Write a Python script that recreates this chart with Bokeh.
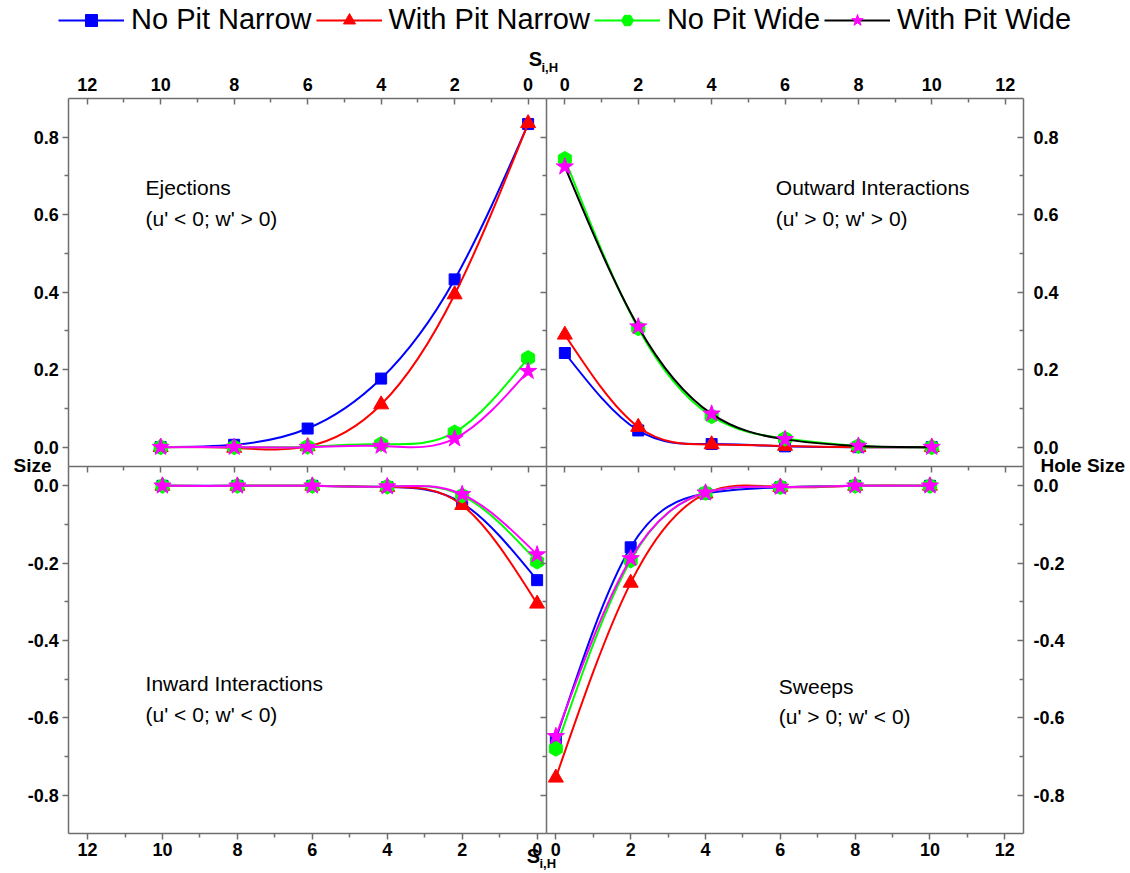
import numpy as np
from bokeh.plotting import figure
from bokeh.models import (Range1d, LinearAxis, FixedTicker, Label, Legend,
                          LegendItem, Grid, PrintfTickFormatter)
from bokeh.embed import file_html
from bokeh.resources import INLINE

# ---------------- data ----------------
series_names = ["No Pit Narrow", "With Pit Narrow", "No Pit Wide", "With Pit Wide"]
series_colors = ["#0000ff", "#ff0000", "#00ff00", "#ff00ff"]
series_markers = ["square", "triangle", "hex", "star"]

s_left = [10, 8, 6, 4, 2, 0]    # S_i,H (left panels, reversed axis)
s_right = [0, 2, 4, 6, 8, 10]   # S_i,H (right panels)

# Ejections (u' < 0; w' > 0)  -- top left
ej_npn = [0.0, 0.006, 0.048, 0.177, 0.433, 0.834]
ej_wpn = [0.0, -0.002, 0.002, 0.110, 0.394, 0.836]
ej_npw = [0.0, 0.0, 0.001, 0.008, 0.038, 0.230]
ej_wpw = [0.0, 0.0, 0.0, 0.003, 0.022, 0.196]

# Outward Interactions (u' > 0; w' > 0) -- top right
ou_npn = [0.243, 0.043, 0.008, 0.002, 0.0, 0.0]
ou_wpn = [0.290, 0.052, 0.007, 0.003, 0.0, 0.0]
ou_npw = [0.744, 0.307, 0.080, 0.022, 0.003, 0.0]
ou_wpw = [0.724, 0.311, 0.086, 0.020, 0.003, 0.0]

# Inward Interactions (u' < 0; w' < 0) -- bottom left
in_npn = [0.0, 0.0, 0.0, -0.003, -0.045, -0.244]
in_wpn = [0.0, 0.0, 0.0, -0.003, -0.050, -0.305]
in_npw = [0.0, 0.0, 0.0, -0.002, -0.025, -0.196]
in_wpw = [0.0, 0.0, 0.0, -0.002, -0.022, -0.178]

# Sweeps (u' > 0; w' < 0) -- bottom right
sw_npn = [-0.655, -0.159, -0.020, -0.004, 0.0, 0.0]
sw_wpn = [-0.755, -0.251, -0.020, -0.003, 0.0, 0.0]
sw_npw = [-0.680, -0.193, -0.018, -0.003, 0.0, 0.0]
sw_wpw = [-0.648, -0.188, -0.018, -0.003, 0.0, 0.0]

x_tick_vals = [0, 2, 4, 6, 8, 10, 12]
x_minor_vals = [1, 3, 5, 7, 9, 11]
top_y_ticks = [0.0, 0.2, 0.4, 0.6, 0.8]
top_y_minor = [0.1, 0.3, 0.5, 0.7]
bot_y_ticks = [-0.8, -0.6, -0.4, -0.2, 0.0]
bot_y_minor = [-0.7, -0.5, -0.3, -0.1]

# panel limits (data units)
TOP_Y = (-0.05, 0.9)
BOT_Y = (-0.9, 0.05)
TOP_X = (-0.5, 12.5)
BOT_X = (-0.25, 12.5)

# ---------------- layout geometry (canvas pixels) ----------------
W, H = 1128, 871
FL, FR, FT, FB = 68.3, 1023.0, 98.0, 833.3   # outer frame of the 4 panels
DX, DY = 546.0, 466.0                        # dividers


def lin_range(p_a, v_a, p_b, v_b, lo_px, hi_px):
    k = (v_b - v_a) / (p_b - p_a)
    return Range1d(start=v_a + (lo_px - p_a) * k, end=v_a + (hi_px - p_a) * k)


r_tl = lin_range(FL, TOP_X[1], DX, TOP_X[0], 0, W)
r_tr = lin_range(DX, TOP_X[0], FR, TOP_X[1], 0, W)
r_bl = lin_range(FL, BOT_X[1], DX, BOT_X[0], 0, W)
r_br = lin_range(DX, BOT_X[0], FR, BOT_X[1], 0, W)
r_top = lin_range(DY, TOP_Y[0], FT, TOP_Y[1], H, 0)
r_bot = lin_range(FB, BOT_Y[0], DY, BOT_Y[1], H, 0)


def xpx(rng, px):
    return rng.start + px / W * (rng.end - rng.start)


def ypx(rng, py):
    return rng.start + (H - py) / H * (rng.end - rng.start)


GRAY = "#6e6e6e"
FONT = "Liberation Sans"

p = figure(width=W, height=H, x_range=r_tl, y_range=r_top,
           output_backend="svg", toolbar_location=None,
           x_axis_location=None, y_axis_location=None, min_border=0)
p.extra_x_ranges = {"tr": r_tr, "bl": r_bl, "br": r_br}
p.extra_y_ranges = {"bot": r_bot}
p.center = [c for c in p.center if not isinstance(c, Grid)]
p.outline_line_color = None
p.background_fill_color = "white"
p.border_fill_color = "white"


def add_axis(side, xname, yname, fixed, bounds, major, minor, tick_in, tick_out,
             labels=True, standoff=5, yfmt=False):
    ax = LinearAxis(x_range_name=xname, y_range_name=yname, fixed_location=fixed,
                    bounds=bounds, ticker=FixedTicker(ticks=major, minor_ticks=minor))
    ax.axis_line_color = GRAY
    ax.axis_line_width = 1.5
    ax.major_tick_line_color = GRAY
    ax.minor_tick_line_color = GRAY
    ax.major_tick_line_width = 1.5
    ax.minor_tick_line_width = 1.5
    ax.major_tick_in = 6 if tick_in else 0
    ax.major_tick_out = 6 if tick_out else 0
    ax.minor_tick_in = 4 if tick_in else 0
    ax.minor_tick_out = 4 if tick_out else 0
    ax.major_label_text_font = FONT
    ax.major_label_text_font_style = "bold"
    ax.major_label_text_font_size = "18px"
    ax.major_label_text_color = "black"
    ax.major_label_standoff = standoff
    if yfmt:
        ax.formatter = PrintfTickFormatter(format="%.1f")
    if not labels:
        ax.major_label_overrides = {float(t): "" for t in major}
    p.add_layout(ax, side)


# top-left panel
add_axis("above", "default", "default", TOP_Y[1], TOP_X, x_tick_vals, x_minor_vals, True, False, standoff=8)
add_axis("below", "default", "default", TOP_Y[0], TOP_X, x_tick_vals, x_minor_vals, False, True, labels=False)
add_axis("left", "default", "default", TOP_X[1], TOP_Y, top_y_ticks, top_y_minor, False, True, standoff=4, yfmt=True)
add_axis("right", "default", "default", TOP_X[0], TOP_Y, top_y_ticks, top_y_minor, True, False, labels=False)
# top-right panel
add_axis("above", "tr", "default", TOP_Y[1], TOP_X, x_tick_vals, x_minor_vals, True, False, standoff=8)
add_axis("below", "tr", "default", TOP_Y[0], TOP_X, x_tick_vals, x_minor_vals, False, True, labels=False)
add_axis("right", "tr", "default", TOP_X[1], TOP_Y, top_y_ticks, top_y_minor, True, False, standoff=10, yfmt=True)
# bottom-left panel
add_axis("below", "bl", "bot", BOT_Y[0], BOT_X, x_tick_vals, x_minor_vals, False, True, standoff=3)
add_axis("left", "bl", "bot", BOT_X[1], BOT_Y, bot_y_ticks, bot_y_minor, False, True, standoff=4, yfmt=True)
add_axis("right", "bl", "bot", BOT_X[0], BOT_Y, bot_y_ticks, bot_y_minor, True, False, labels=False)
# bottom-right panel
add_axis("below", "br", "bot", BOT_Y[0], BOT_X, x_tick_vals, x_minor_vals, False, True, standoff=3)
add_axis("right", "br", "bot", BOT_X[1], BOT_Y, bot_y_ticks, bot_y_minor, True, False, standoff=10, yfmt=True)


# natural cubic spline drawn as bezier segments through the data points
def spline_segments(xs, ys):
    xs = np.asarray(xs, float); ys = np.asarray(ys, float)
    n = len(xs)

    def derivs(v):
        A = np.zeros((n, n)); b = np.zeros(n)
        A[0, 0] = 2; A[0, 1] = 1; b[0] = 3 * (v[1] - v[0])
        A[-1, -1] = 2; A[-1, -2] = 1; b[-1] = 3 * (v[-1] - v[-2])
        for i in range(1, n - 1):
            A[i, i - 1] = 1; A[i, i] = 4; A[i, i + 1] = 1
            b[i] = 3 * (v[i + 1] - v[i - 1])
        return np.linalg.solve(A, b)

    dx = derivs(xs); dy = derivs(ys)
    return dict(x0=xs[:-1], y0=ys[:-1], x1=xs[1:], y1=ys[1:],
                cx0=xs[:-1] + dx[:-1] / 3, cy0=ys[:-1] + dy[:-1] / 3,
                cx1=xs[1:] - dx[1:] / 3, cy1=ys[1:] - dy[1:] / 3)


marker_sizes = {"square": 11, "triangle": 15, "hex": 15, "star": 18}
panels = [
    ("default", "default", s_left, [ej_npn, ej_wpn, ej_npw, ej_wpw], "#ff00ff"),
    ("tr", "default", s_right, [ou_npn, ou_wpn, ou_npw, ou_wpw], "#000000"),
    ("bl", "bot", s_left, [in_npn, in_wpn, in_npw, in_wpw], "#ff00ff"),
    ("br", "bot", s_right, [sw_npn, sw_wpn, sw_npw, sw_wpw], "#ff00ff"),
]
legend_renderers = {}
for xn, yn, xs, ys_list, wide_line in panels:
    for k, ys in enumerate(ys_list):
        lc = series_colors[k] if k < 3 else wide_line
        seg = spline_segments(xs, ys)
        bz = p.bezier(line_color=lc, line_width=2, x_range_name=xn, y_range_name=yn, **seg)
        mk = series_markers[k]
        sc = p.scatter(x=xs, y=ys, marker=mk, size=marker_sizes[mk],
                       fill_color=series_colors[k], line_color=series_colors[k],
                       angle=(np.pi / 2 if mk == "hex" else 0.0),
                       x_range_name=xn, y_range_name=yn)
        if xn == "tr":
            legend_renderers[k] = (bz, sc)

# legend across the top
items = []
for k, name in enumerate(series_names):
    bz, sc = legend_renderers[k]
    items.append(LegendItem(label=name, renderers=[bz, sc]))
legend = Legend(items=items, orientation="horizontal", location=(58, H - 36),
                glyph_width=66, glyph_height=30, label_standoff=7, spacing=4,
                padding=0, margin=0, border_line_color=None,
                background_fill_alpha=0, label_text_font=FONT,
                label_text_font_size="29px", label_text_color="black")
p.add_layout(legend)


# panel annotations
def note(x, y, text, xn, yn):
    p.add_layout(Label(x=x, y=y, text=text, x_range_name=xn, y_range_name=yn,
                       text_font=FONT, text_font_size="21px", text_color="black",
                       text_align="left", text_baseline="middle"))


note(10.41, 0.67, "Ejections", "default", "default")
note(10.41, 0.59, "(u' < 0; w' > 0)", "default", "default")
note(5.75, 0.67, "Outward Interactions", "tr", "default")
note(5.75, 0.59, "(u' > 0; w' > 0)", "tr", "default")
note(10.45, -0.512, "Inward Interactions", "bl", "bot")
note(10.45, -0.592, "(u' < 0; w' < 0)", "bl", "bot")
note(5.96, -0.519, "Sweeps", "br", "bot")
note(5.96, -0.597, "(u' > 0; w' < 0)", "br", "bot")


# axis titles (placed by canvas pixel position)
def title(px, py, text, size, align):
    p.add_layout(Label(x=xpx(r_tl, px), y=ypx(r_top, py), text=text,
                       text_font=FONT, text_font_size=size, text_font_style="bold",
                       text_color="black", text_align=align, text_baseline="middle"))


title(535, 58, "S", "20px", "center")
title(541, 67, "i,H", "13px", "left")
title(533, 855, "S", "20px", "center")
title(539, 863, "i,H", "13px", "left")
title(51, 465, "Size", "19px", "right")
title(1040, 465, "Hole Size", "19px", "left")

open("out.html", "w").write(file_html(p, INLINE))
